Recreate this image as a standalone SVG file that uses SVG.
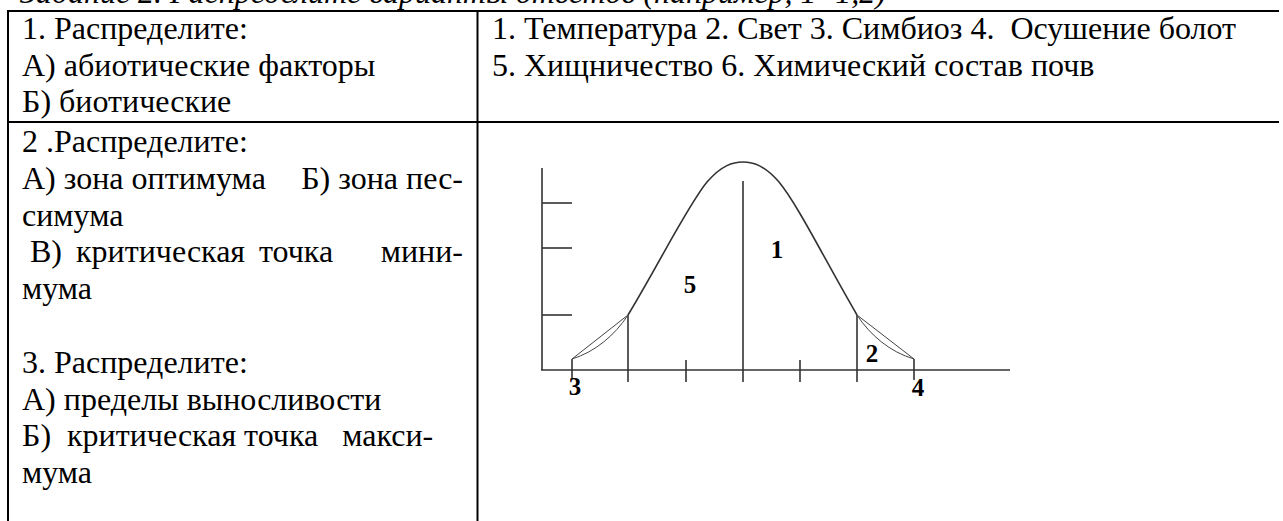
<svg xmlns="http://www.w3.org/2000/svg" width="1283" height="521" viewBox="0 0 1283 521">
<style>
.t{font-family:"Liberation Serif","Times New Roman",serif;font-size:32px;fill:#000}
.ti{font-family:"Liberation Serif","Times New Roman",serif;font-size:32px;font-style:italic;fill:#000}
.lb{font-family:"Liberation Serif","Times New Roman",serif;font-size:25px;font-weight:bold;fill:#000}
.b{stroke:#000;stroke-width:2;fill:none}
.g{stroke:#333;stroke-width:1.6;fill:none}
.g2{stroke:#444;stroke-width:1;fill:none}
</style>
<rect width="1283" height="521" fill="#fff"/>
<text class="ti" x="20" y="3">Задание 2. Распределите варианты ответов (например, 1- 1,2)</text>
<g id="table">
<line class="b" x1="7" y1="11" x2="1279" y2="11"/>
<line class="b" x1="7" y1="122" x2="1279" y2="122"/>
<line class="b" x1="8" y1="10" x2="8" y2="521"/>
<line class="b" x1="477.5" y1="10" x2="477.5" y2="521"/>
</g>
<g id="cell1">
<text class="t" x="22" y="39">1. Распределите:</text>
<text class="t" x="22" y="76">А) абиотические факторы</text>
<text class="t" x="22" y="112">Б) биотические</text>
</g>
<g id="cell2">
<text class="t" x="492" y="39" xml:space="preserve">1. Температура 2. Свет 3. Симбиоз 4.  Осушение болот</text>
<text class="t" x="492" y="76">5. Хищничество 6. Химический состав почв</text>
</g>
<g id="cell3">
<text class="t" x="22" y="152">2 .Распределите:</text>
<text class="t" x="22" y="189">А) зона оптимума</text>
<text class="t" x="463" y="189" text-anchor="end">Б) зона пес-</text>
<text class="t" x="22" y="226">симума</text>
<text class="t" x="30" y="262">В)</text>
<text class="t" x="76" y="262">критическая</text>
<text class="t" x="259" y="262">точка</text>
<text class="t" x="463" y="262" text-anchor="end">мини-</text>
<text class="t" x="22" y="299">мума</text>
<text class="t" x="22" y="373">3. Распределите:</text>
<text class="t" x="22" y="410">А) пределы выносливости</text>
<text class="t" x="22" y="446" xml:space="preserve">Б)  критическая точка   макси-</text>
<text class="t" x="22" y="483">мума</text>
</g>
<g id="graph">
<line class="g" x1="542" y1="168" x2="542" y2="370"/>
<line class="g" x1="541" y1="370" x2="1010" y2="370"/>
<line class="g" x1="542" y1="203" x2="572" y2="203"/>
<line class="g" x1="542" y1="248" x2="572" y2="248"/>
<line class="g" x1="542" y1="315" x2="572" y2="315"/>
<line class="g" x1="628" y1="315" x2="628" y2="382"/>
<line class="g" x1="686" y1="360" x2="686" y2="382"/>
<line class="g" x1="743" y1="181" x2="743" y2="382"/>
<line class="g" x1="800" y1="360" x2="800" y2="382"/>
<line class="g" x1="857" y1="315" x2="857" y2="382"/>
<line class="g" x1="572" y1="359" x2="572" y2="378"/>
<line class="g" x1="914" y1="359" x2="914" y2="380"/>
<path class="g" d="M628,315 C660,262 688,205 707,182 C722,165 733,162 743,162 C753,162 764,165 779,182 C798,205 826,262 857,315"/>
<path class="g2" d="M572,359 L628,315"/>
<path class="g2" d="M572,359 C595,352 615,335 628,315"/>
<path class="g2" d="M857,315 L914,359"/>
<path class="g2" d="M857,315 C870,335 890,352 914,359"/>
<text class="lb" x="690" y="293" text-anchor="middle">5</text>
<text class="lb" x="777" y="258" text-anchor="middle">1</text>
<text class="lb" x="872" y="362" text-anchor="middle">2</text>
<text class="lb" x="575" y="395" text-anchor="middle">3</text>
<text class="lb" x="918" y="396" text-anchor="middle">4</text>
</g>
</svg>
